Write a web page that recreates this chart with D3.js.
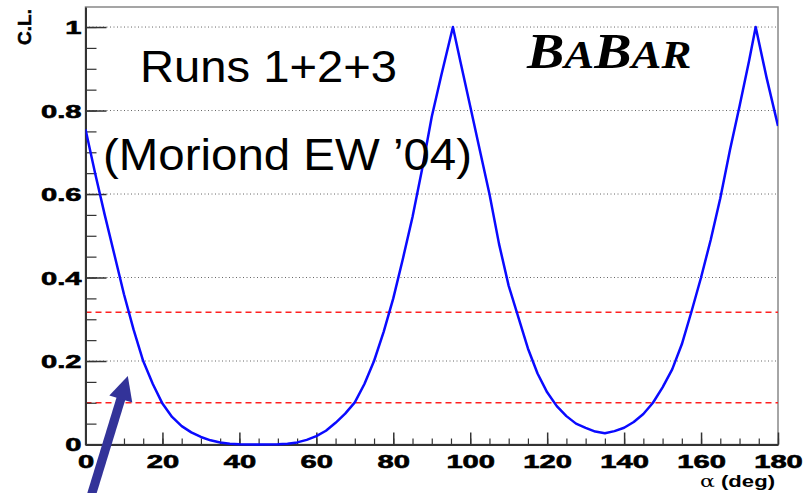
<!DOCTYPE html>
<html>
<head>
<meta charset="utf-8">
<script src="https://cdn.jsdelivr.net/npm/d3@7"></script>
<style>
  body { margin: 0; background: #fff; }
  svg { display: block; }
</style>
</head>
<body>
<div id="chart"></div>
<script>
// C.L. scan vs alpha
var alphaDeg = [0, 2.5, 5, 7.5, 10, 12.5, 15, 17.5, 20, 22.5, 25, 27.5, 30, 32.5, 35, 37.5, 40, 45, 50, 52.5,
  55, 57.5, 60, 62.5, 65, 67.5, 70, 72.5, 75, 77.5, 80, 82.5, 85, 87.5, 90, 92.5, 95.5, 97.5, 100, 102.5,
  105, 107.5, 110, 112.5, 115, 117.5, 120, 122.5, 125, 127.5, 130, 132.5, 135, 137.5, 140, 142.5, 145, 147.5,
  150, 152.5, 155, 157.5, 160, 162.5, 165, 167.5, 170, 172.5, 174.2, 177, 180];
var clValues = [0.755, 0.65, 0.55, 0.455, 0.36, 0.275, 0.2, 0.145, 0.098, 0.066, 0.044, 0.029, 0.018, 0.010, 0.005, 0.002, 0.0005, 0, 0.0005, 0.002,
  0.005, 0.011, 0.02, 0.033, 0.052, 0.074, 0.101, 0.145, 0.2, 0.27, 0.35, 0.445, 0.545, 0.66, 0.785, 0.885, 1.0, 0.915, 0.81, 0.705,
  0.6, 0.48, 0.38, 0.305, 0.23, 0.17, 0.125, 0.092, 0.068, 0.05, 0.04, 0.031, 0.027, 0.032, 0.04, 0.054, 0.073, 0.1,
  0.137, 0.18, 0.24, 0.318, 0.4, 0.49, 0.59, 0.705, 0.81, 0.92, 1.0, 0.88, 0.763];

var clLevels = [0.317, 0.1];            // red dashed reference lines
var gridVals = [0.2, 0.4, 0.6, 0.8, 1];  // dotted grid
var xTickVals = [0, 20, 40, 60, 80, 100, 120, 140, 160, 180];
var xTickLabels = ["0", "20", "40", "60", "80", "100", "120", "140", "160", "180"];
var yTickVals = [0, 0.2, 0.4, 0.6, 0.8, 1];
var yTickLabels = ["0", "0.2", "0.4", "0.6", "0.8", "1"];
var arrowTip = {a: 11.0, cl: 0.164},
    arrowTail = {a: 1.4, cl: -0.125};

var width = 808, height = 493;
var x0 = 85.5, x1 = 778, yBot = 444.5, yTop = 7;

var svg = d3.select("#chart").append("svg")
    .attr("width", width)
    .attr("height", height);

var x = d3.scaleLinear().domain([0, 180]).range([x0, x1]);
var y = d3.scaleLinear().domain([0, 1.048]).range([yBot, yTop]);

var tickFont = "'Liberation Sans', Arial, Helvetica, sans-serif";

// frame
svg.append("rect")
    .attr("x", x0).attr("y", yTop)
    .attr("width", x1 - x0).attr("height", yBot - yTop)
    .attr("fill", "none")
    .attr("stroke", "#888")
    .attr("stroke-width", 1.5);

// grid
svg.selectAll(".grid")
    .data(gridVals)
    .enter().append("line")
    .attr("class", "grid")
    .attr("x1", x0).attr("x2", x1)
    .attr("y1", function(d) { return y(d); })
    .attr("y2", function(d) { return y(d); })
    .attr("stroke", "#666")
    .attr("stroke-width", 1)
    .attr("stroke-dasharray", "1,2.5");

// red C.L. levels
svg.selectAll(".level")
    .data(clLevels)
    .enter().append("line")
    .attr("class", "level")
    .attr("x1", x0).attr("x2", x1)
    .attr("y1", function(d) { return y(d); })
    .attr("y2", function(d) { return y(d); })
    .attr("stroke", "#ff2020")
    .attr("stroke-width", 1.5)
    .attr("stroke-dasharray", "6,4");

// minor ticks
svg.append("g")
    .attr("transform", "translate(0," + yBot + ")")
    .call(d3.axisBottom(x).tickValues(d3.range(0, 181, 5)).tickSizeInner(-6).tickSizeOuter(0).tickFormat(""))
    .call(function(g) { g.select(".domain").remove(); })
    .selectAll("line").attr("stroke", "#333").attr("stroke-width", 1.2);

svg.append("g")
    .attr("transform", "translate(" + x0 + ",0)")
    .call(d3.axisLeft(y).tickValues(d3.range(0, 1.001, 0.05)).tickSizeInner(-11).tickSizeOuter(0).tickFormat(""))
    .call(function(g) { g.select(".domain").remove(); })
    .selectAll("line").attr("stroke", "#333").attr("stroke-width", 1.2);

// major axes
var gx = svg.append("g")
    .attr("transform", "translate(0," + yBot + ")")
    .call(d3.axisBottom(x).tickValues(xTickVals).tickSizeInner(-12).tickSizeOuter(0)
        .tickFormat(function(d, i) { return xTickLabels[i]; }));

gx.select(".domain").attr("stroke", "#333").attr("stroke-width", 2);
gx.selectAll("line").attr("stroke", "#333").attr("stroke-width", 1.5);
gx.selectAll("text")
    .attr("y", null).attr("dy", null)
    .attr("transform", "translate(0,23.5) scale(1.62,1)")
    .attr("text-anchor", "middle")
    .style("font-family", tickFont)
    .style("font-weight", "bold")
    .style("font-size", "18px")
    .attr("fill", "#000")
    .attr("stroke", "#000")
    .attr("stroke-width", 0.6);

var gy = svg.append("g")
    .attr("transform", "translate(" + x0 + ",0)")
    .call(d3.axisLeft(y).tickValues(yTickVals).tickSizeInner(-21).tickSizeOuter(0)
        .tickFormat(function(d, i) { return yTickLabels[i]; }));

gy.select(".domain").attr("stroke", "#333").attr("stroke-width", 2);
gy.selectAll("line").attr("stroke", "#333").attr("stroke-width", 1.5);
gy.selectAll("text")
    .attr("x", null).attr("dy", "0.36em")
    .attr("transform", "translate(-4,0) scale(1.62,1)")
    .attr("text-anchor", "end")
    .style("font-family", tickFont)
    .style("font-weight", "bold")
    .style("font-size", "18px")
    .attr("fill", "#000")
    .attr("stroke", "#000")
    .attr("stroke-width", 0.6);

// axis titles
svg.append("text")
    .attr("transform", "translate(775,487) scale(1.3,1)")
    .attr("text-anchor", "end")
    .style("font-family", tickFont)
    .style("font-size", "17px")
    .style("font-weight", "bold")
    .html("<tspan style='font-weight:normal;font-family:\"DejaVu Serif\",serif'>α</tspan> (deg)");

svg.append("text")
    .attr("transform", "translate(31,9) rotate(-90)")
    .attr("text-anchor", "end")
    .style("font-family", tickFont)
    .style("font-size", "19px")
    .style("font-weight", "bold")
    .attr("stroke", "#000")
    .attr("stroke-width", 0.5)
    .text("C.L.");

// curve
svg.append("clipPath").attr("id", "plotclip")
    .append("rect")
    .attr("x", x0).attr("y", yTop)
    .attr("width", x1 - x0).attr("height", yBot - yTop + 2);

var points = alphaDeg.map(function(a, i) { return {a: a, cl: clValues[i]}; });

var line = d3.line()
    .x(function(d) { return x(d.a); })
    .y(function(d) { return y(d.cl); })
    .curve(d3.curveLinear);

svg.append("path")
    .datum(points)
    .attr("clip-path", "url(#plotclip)")
    .attr("d", line)
    .attr("fill", "none")
    .attr("stroke", "#0a0aff")
    .attr("stroke-width", 2.5)
    .attr("stroke-linejoin", "round");

// labels
svg.append("text")
    .attr("x", 140).attr("y", 81.7)
    .attr("textLength", 257).attr("lengthAdjust", "spacingAndGlyphs")
    .style("font-family", tickFont)
    .style("font-size", "44px")
    .text("Runs 1+2+3");

svg.append("text")
    .attr("x", 103).attr("y", 170)
    .attr("textLength", 369).attr("lengthAdjust", "spacingAndGlyphs")
    .style("font-family", tickFont)
    .style("font-size", "45px")
    .text("(Moriond EW \u201904)");

// BaBar logo (letters flow naturally, big B / small A,R)
var logo = svg.append("text")
    .attr("transform", "translate(527,68) scale(1.12,1)")
    .style("font-family", "'Liberation Serif', 'Times New Roman', serif")
    .style("font-weight", "bold")
    .style("font-style", "italic")
    .attr("fill", "#000");
logo.append("tspan").style("font-size", "50px").text("B");
logo.append("tspan").style("font-size", "40px").text("A");
logo.append("tspan").style("font-size", "50px").text("B");
logo.append("tspan").style("font-size", "40px").text("A");
logo.append("tspan").style("font-size", "40px").text("R");

// arrow annotation
var tx = x(arrowTip.a), ty = y(arrowTip.cl),
    sx = x(arrowTail.a), sy = y(arrowTail.cl);
var dx = tx - sx, dy = ty - sy, len = Math.sqrt(dx * dx + dy * dy);
var ux = dx / len, uy = dy / len, nx = -uy, ny = ux;
var headLen = 24, headHalf = 12;
var bx = tx - headLen * ux, by = ty - headLen * uy;

svg.append("line")
    .attr("x1", sx).attr("y1", sy)
    .attr("x2", bx + 2 * ux).attr("y2", by + 2 * uy)
    .attr("stroke", "#333399")
    .attr("stroke-width", 9);

svg.append("polygon")
    .attr("points", [[tx, ty], [bx + headHalf * nx, by + headHalf * ny], [bx - headHalf * nx, by - headHalf * ny]]
        .map(function(p) { return p.join(","); }).join(" "))
    .attr("fill", "#333399");
</script>
</body>
</html>
